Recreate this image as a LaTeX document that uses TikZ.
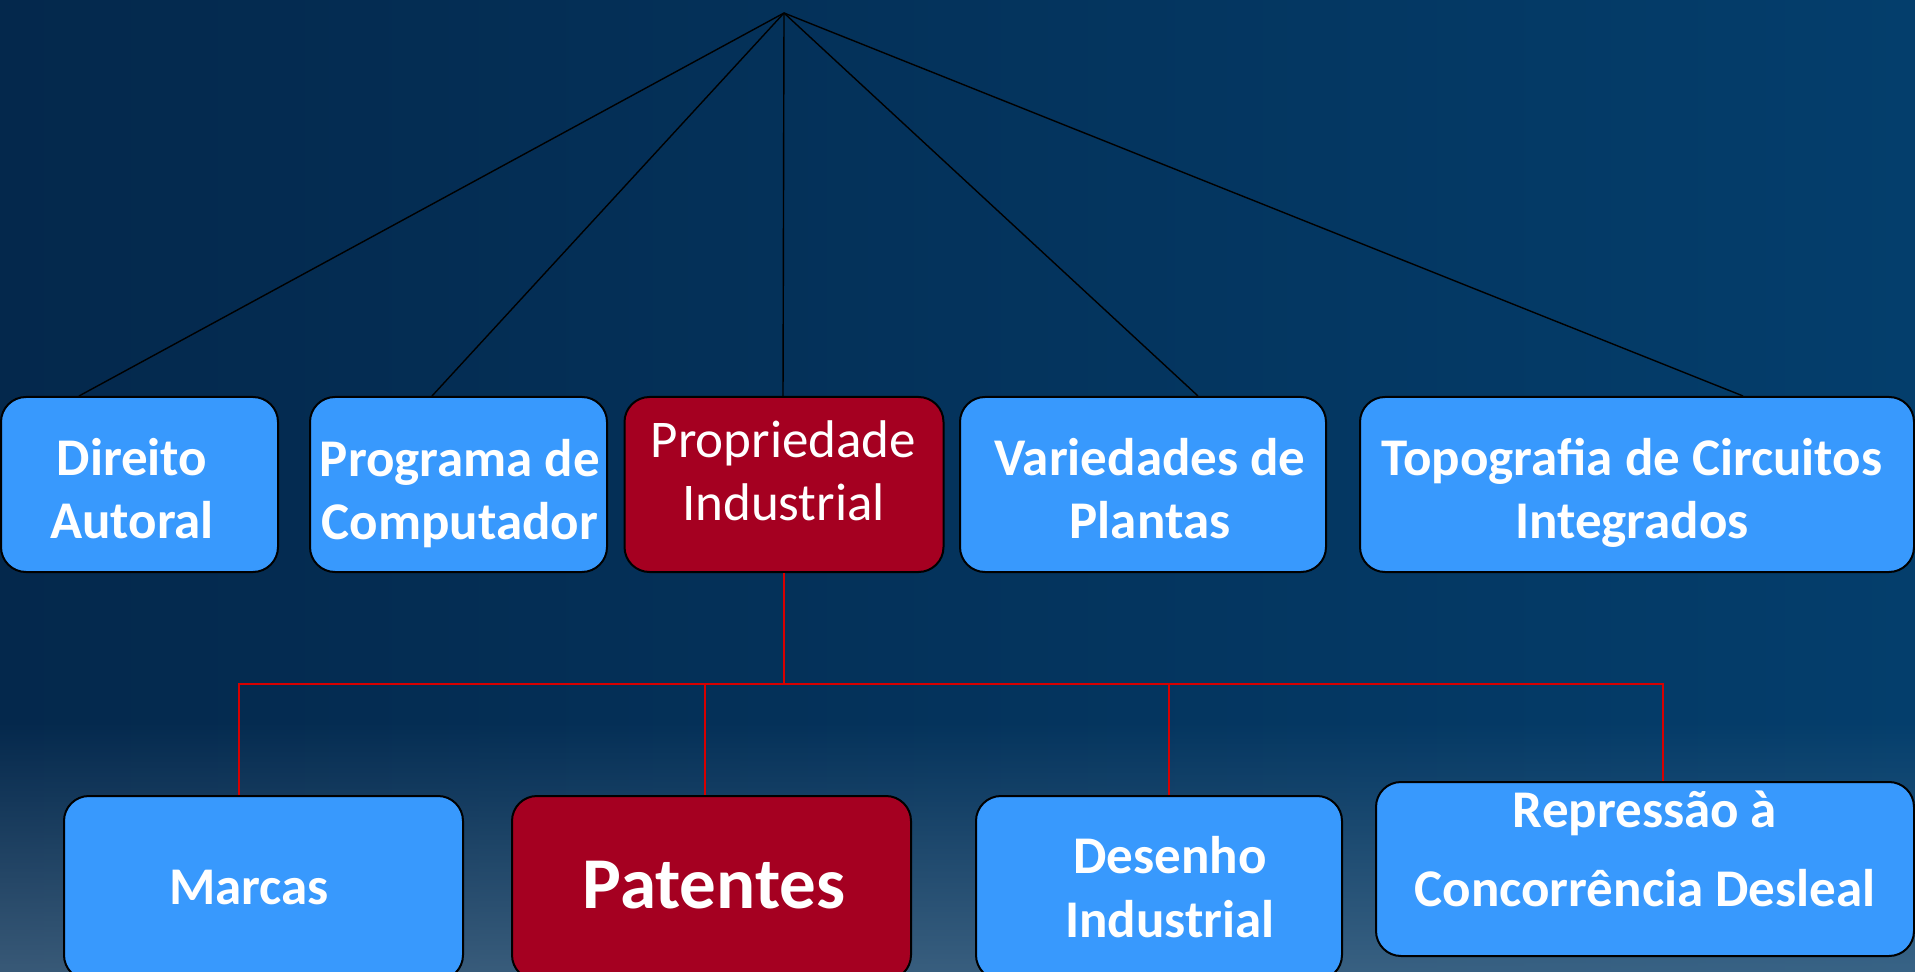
\documentclass[tikz,border=0pt]{standalone}
\usepackage{fontspec}
\setmainfont{Carlito}
\usepackage{xcolor}
\usetikzlibrary{fadings}
\definecolor{bgleft}{RGB}{4,40,76}
\definecolor{bgright}{RGB}{4,62,108}
\definecolor{bgglow}{RGB}{100,130,155}
\definecolor{boxblue}{RGB}{56,153,253}
\definecolor{boxred}{RGB}{165,0,33}
\definecolor{treered}{RGB}{215,0,0}
\tikzfading[name=glowup,top color=transparent!100,bottom color=transparent!45]

\tikzset{
  box/.style={draw=black,line width=1pt,rounded corners=12.5pt,inner sep=0pt},
  bluebox/.style={box,fill=boxblue},
  redbox/.style={box,fill=boxred},
  boxsize/.style 2 args={minimum width=#1*0.5pt,minimum height=#2*0.5pt},
  boldtxt/.style={text=white,align=center,inner sep=0pt,font=\bfseries\fontsize{26.5}{31.75}\selectfont},
  plaintxt/.style={boldtxt,font=\fontsize{26.5}{31.75}\selectfont},
  bigtxt/.style={boldtxt,font=\bfseries\fontsize{36.5}{44}\selectfont},
  blackline/.style={draw=black,line width=0.7pt},
  redline/.style={draw=treered,line width=0.8pt}
}

\begin{document}
\begin{tikzpicture}[x=0.5pt,y=-0.5pt]
\useasboundingbox (0,0) rectangle (1915,972);
\clip (0,0) rectangle (1915,972);
\shade[left color=bgleft,right color=bgright] (0,0) rectangle (1915,972);
\fill[bgglow,path fading=glowup] (0,720) rectangle (1915,972);

% first row
\node[bluebox,boxsize={277}{175}] (dir)  at (139.5,484.5) {};
\node[bluebox,boxsize={297}{175}] (prog) at (458.5,484.5) {};
\node[redbox, boxsize={319}{175}] (prop) at (784,484.5) {};
\node[bluebox,boxsize={366}{175}] (var)  at (1143,484.5) {};
\node[bluebox,boxsize={554}{175}] (topo) at (1637,484.5) {};

% second row
\node[bluebox,boxsize={399}{184}] (m)   at (263.5,888) {};
\node[redbox, boxsize={399}{184}] (pat) at (711.5,888) {};
\node[bluebox,boxsize={366}{184}] (des) at (1159,888) {};
\node[bluebox,boxsize={538}{174}] (rep) at (1645,869) {};

% texts
\node[boldtxt]  (dir-t)  at ([shift={(-7.5,4)}]dir)  {Direito\\Autoral};
\node[boldtxt]  (prog-t) at ([shift={(1.5,9)}]prog)  {Programa de\\Computador};
\node[plaintxt] (prop-t) at ([shift={(-0.5,-13.5)}]prop) {Propriedade\\Industrial};
\node[boldtxt]  (var-t)  at ([shift={(7,4)}]var)     {Variedades de\\Plantas};
\node[boldtxt]  (topo-t) at ([shift={(-5,8.5)}]topo) {Topografia de Circuitos\\Integrados};
\node[boldtxt]  (m-t)    at ([shift={(-14.5,0)}]m)   {Marcas};
\node[bigtxt]   (pat-t)  at ([shift={(2.5,-2.5)}]pat) {Patentes};
\node[boldtxt]  (des-t)  at ([shift={(11,-1)}]des)   {Desenho\\Industrial};
\node[boldtxt]  (rep-t)  at ([shift={(0,-20)}]rep)   {Repressão à\\[8pt]Concorrência Desleal};

% connectors
\coordinate (apex) at (784,13);
\foreach \n/\d in {dir/-60.5,prog/-26.5,prop/-1,var/55,topo/106}
  \draw[blackline] (apex) -- ([shift={(\d,0)}]\n.north);

\coordinate (hub) at (784,684);
\draw[redline] (prop.south) -- (hub);
\foreach \n/\d in {m/-24.5,pat/-6.5,des/10,rep/18}
  \draw[redline] (hub) -| ([shift={(\d,0)}]\n.north);

\end{tikzpicture}
\end{document}
